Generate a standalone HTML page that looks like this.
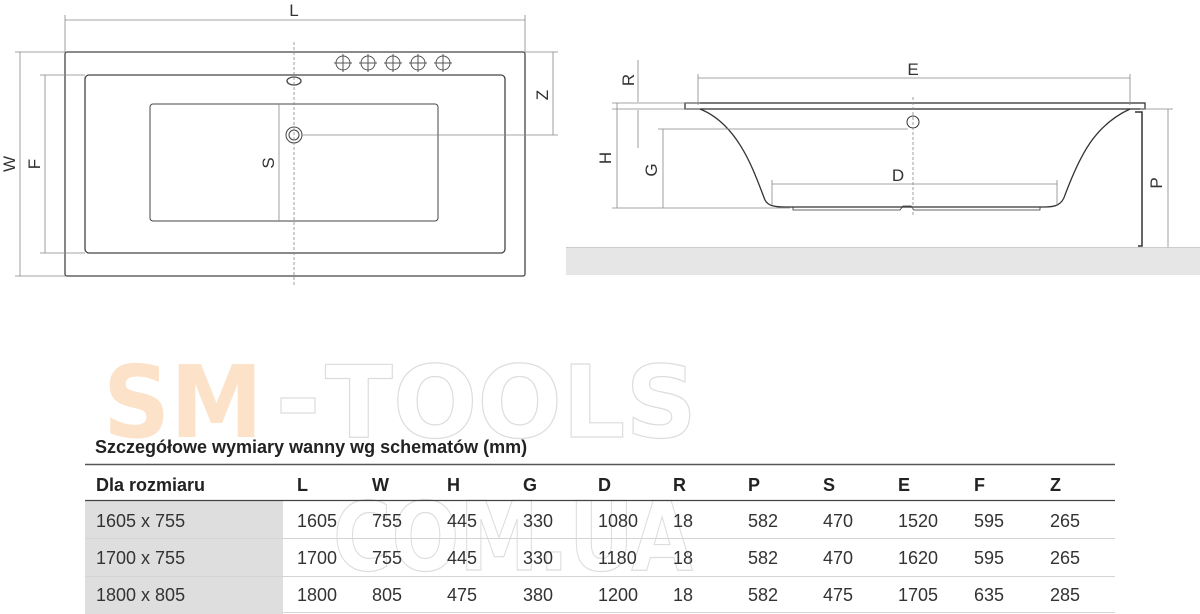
<!DOCTYPE html>
<html><head><meta charset="utf-8"><style>
html,body{margin:0;padding:0;background:#fff}
svg{display:block}
.t{font-family:"Liberation Sans",sans-serif;fill:#333}
.d{font-family:"Liberation Sans",sans-serif;font-size:18px;fill:#333}
.b{font-weight:bold;fill:#222}
</style></head><body>
<svg width="1200" height="614" viewBox="0 0 1200 614" xmlns="http://www.w3.org/2000/svg">
<!-- top view -->
<g fill="none" stroke="#444" stroke-width="1.3">
<rect x="65" y="52" width="460" height="224" rx="2"/>
<rect x="85" y="75" width="420" height="178" rx="4"/>
<rect x="150" y="104" width="288" height="117" rx="3" stroke-width="1"/>
<ellipse cx="294" cy="81" rx="7" ry="4"/>
<circle cx="294" cy="135" r="8" stroke-width="1"/><circle cx="294" cy="135" r="5" stroke-width="1"/>
</g>
<g fill="none" stroke="#555" stroke-width="1">
<circle cx="343" cy="63" r="7"/><path d="M343 54v18M334 63h18"/>
<circle cx="368" cy="63" r="7"/><path d="M368 54v18M359 63h18"/>
<circle cx="393" cy="63" r="7"/><path d="M393 54v18M384 63h18"/>
<circle cx="418" cy="63" r="7"/><path d="M418 54v18M409 63h18"/>
<circle cx="443" cy="63" r="7"/><path d="M443 54v18M434 63h18"/>
</g>
<g stroke="#888" stroke-width="0.8" fill="none">
<path d="M294 42V285" stroke-dasharray="3,2"/>
<path d="M65 20H525M65 15V52M525 15V52"/>
<path d="M20 52V276M15 52H65M15 276H65"/>
<path d="M45 75V253M40 75H85M40 253H85"/>
<path d="M553 52V135M525 52H558M302 135H558"/>
<path d="M279 104V221"/>
</g>
<text class="t" x="294" y="16" font-size="17" text-anchor="middle">L</text>
<text class="t" font-size="17" transform="translate(15,164) rotate(-90)" text-anchor="middle">W</text>
<text class="t" font-size="17" transform="translate(40,164) rotate(-90)" text-anchor="middle">F</text>
<text class="t" font-size="17" transform="translate(548,95) rotate(-90)" text-anchor="middle">Z</text>
<text class="t" font-size="17" transform="translate(274,163) rotate(-90)" text-anchor="middle">S</text>
<!-- side view -->
<rect x="566" y="247" width="634" height="28" fill="#e6e6e6"/>
<path d="M566 247.5H1200" stroke="#ccc"/>
<g fill="none" stroke="#333" stroke-width="1.3">
<rect x="685" y="103" width="460" height="6"/>
<path d="M700 109C740 125 755 175 765 200C768 206 775 207 785 207H1045C1055 207 1062 205 1065 195C1080 155 1095 125 1130 109"/>
<path d="M793 207v3H900l3-4h8l3 4H1040v-3" stroke-width="0.8"/>
<circle cx="913" cy="122" r="6" stroke-width="1"/>
<path d="M1135 112h7V246h-4" stroke-width="1.5"/>
</g>
<g stroke="#888" stroke-width="0.8" fill="none">
<path d="M913 97V215" stroke-dasharray="3,2"/>
<path d="M698 78H1130M698 74V105M1130 74V105"/>
<path d="M638 60V102M612 103H700M638 110V148M612 109H700"/>
<path d="M617 103V208M612 208H790"/>
<path d="M663 129V208M658 129H908"/>
<path d="M772 184H1057M772 180V205M1057 180V205"/>
<path d="M1168 109V247M1140 109H1173"/>
</g>
<text class="t" x="913" y="75" font-size="17" text-anchor="middle">E</text>
<text class="t" font-size="17" transform="translate(634,80) rotate(-90)" text-anchor="middle">R</text>
<text class="t" font-size="17" transform="translate(611,158) rotate(-90)" text-anchor="middle">H</text>
<text class="t" font-size="17" transform="translate(657,170) rotate(-90)" text-anchor="middle">G</text>
<text class="t" x="898" y="181" font-size="17" text-anchor="middle">D</text>
<text class="t" font-size="17" transform="translate(1162,183) rotate(-90)" text-anchor="middle">P</text>
<!-- watermark -->
<text x="103" y="437" font-family="DejaVu Sans,sans-serif" font-weight="bold" font-size="100" fill="#fbe2c9" textLength="160" lengthAdjust="spacingAndGlyphs">SM</text>
<rect x="281" y="398" width="34" height="15" fill="none" stroke="#ddd" stroke-width="1.2"/>
<text x="325" y="437" font-family="DejaVu Sans,sans-serif" font-weight="bold" font-size="100" fill="none" stroke="#ddd" stroke-width="1.2" textLength="372" lengthAdjust="spacingAndGlyphs">TOOLS</text>
<text x="333" y="570" font-family="DejaVu Sans,sans-serif" font-weight="bold" font-size="95" fill="none" stroke="#ddd" stroke-width="1.2" textLength="360" lengthAdjust="spacingAndGlyphs">COM.UA</text>
<!-- table -->
<rect x="85" y="501" width="198" height="113" fill="#dedede"/>
<path d="M85 464.5H1115" stroke="#555" stroke-width="1.5"/>
<path d="M85 500.5H1115" stroke="#444" stroke-width="1.2"/>
<path d="M85 538.5H1115M85 576.5H1115M283 612.5H1115" stroke="#d4d4d4" stroke-width="1"/>
<text class="d b" x="95" y="453" font-size="18">Szczegółowe wymiary wanny wg schematów (mm)</text>
<g class="d b">
<text x="96" y="491">Dla rozmiaru</text>
<text x="297" y="491">L</text><text x="372" y="491">W</text><text x="447" y="491">H</text><text x="523" y="491">G</text><text x="598" y="491">D</text><text x="673" y="491">R</text><text x="748" y="491">P</text><text x="823" y="491">S</text><text x="898" y="491">E</text><text x="974" y="491">F</text><text x="1050" y="491">Z</text>
</g>
<g class="d">
<text x="96" y="527">1605 x 755</text><text x="297" y="527">1605</text><text x="372" y="527">755</text><text x="447" y="527">445</text><text x="523" y="527">330</text><text x="598" y="527">1080</text><text x="673" y="527">18</text><text x="748" y="527">582</text><text x="823" y="527">470</text><text x="898" y="527">1520</text><text x="974" y="527">595</text><text x="1050" y="527">265</text>
<text x="96" y="564">1700 x 755</text><text x="297" y="564">1700</text><text x="372" y="564">755</text><text x="447" y="564">445</text><text x="523" y="564">330</text><text x="598" y="564">1180</text><text x="673" y="564">18</text><text x="748" y="564">582</text><text x="823" y="564">470</text><text x="898" y="564">1620</text><text x="974" y="564">595</text><text x="1050" y="564">265</text>
<text x="96" y="601">1800 x 805</text><text x="297" y="601">1800</text><text x="372" y="601">805</text><text x="447" y="601">475</text><text x="523" y="601">380</text><text x="598" y="601">1200</text><text x="673" y="601">18</text><text x="748" y="601">582</text><text x="823" y="601">475</text><text x="898" y="601">1705</text><text x="974" y="601">635</text><text x="1050" y="601">285</text>
</g>
</svg>
</body></html>
